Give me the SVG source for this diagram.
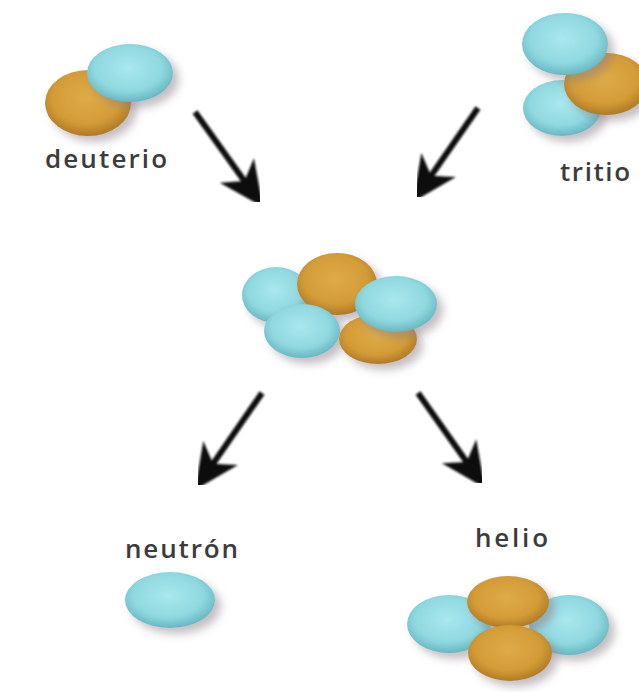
<svg xmlns="http://www.w3.org/2000/svg" width="639" height="692" viewBox="0 0 639 692">
  <defs>
    <radialGradient id="gCyan" cx="48%" cy="42%" r="60%">
      <stop offset="0" stop-color="#a9e8ee"/>
      <stop offset="0.65" stop-color="#90d8e0"/>
      <stop offset="1" stop-color="#62b4bf"/>
    </radialGradient>
    <radialGradient id="gOrange" cx="48%" cy="42%" r="60%">
      <stop offset="0" stop-color="#deab48"/>
      <stop offset="0.65" stop-color="#d49c37"/>
      <stop offset="1" stop-color="#ab7722"/>
    </radialGradient>
    <filter id="shade" x="-30%" y="-30%" width="170%" height="170%">
      <feGaussianBlur in="SourceAlpha" stdDeviation="4"/>
      <feOffset dx="6" dy="6" result="b"/>
      <feFlood flood-color="#8c7f88" flood-opacity="0.5"/>
      <feComposite in2="b" operator="in"/>
      <feMerge>
        <feMergeNode/>
        <feMergeNode in="SourceGraphic"/>
      </feMerge>
    </filter>
    <filter id="soft" x="-20%" y="-20%" width="140%" height="140%">
      <feGaussianBlur stdDeviation="0.8"/>
    </filter>
    <marker id="dart" markerUnits="userSpaceOnUse" markerWidth="60" markerHeight="50" viewBox="-25 -25 55 50" refX="0" refY="0" orient="auto">
      <path d="M25,0 L-20,-21 L-7,0 L-20,21 Z" fill="#111"/>
    </marker>
  </defs>
  <style>
    .c { fill: url(#gCyan); filter: url(#shade); }
    .o { fill: url(#gOrange); filter: url(#shade); }
    .lbl { font-family: "Open Sans", "Liberation Sans", sans-serif; font-size: 26px; font-weight: 600; fill: #3c3c3c; }
    .arr { stroke: #111; stroke-width: 6; fill: none; marker-end: url(#dart); filter: url(#soft); }
  </style>

  <rect width="639" height="692" fill="#ffffff"/>

  <!-- deuterium: one proton, one neutron -->
  <g id="deuterio">
    <ellipse class="o" cx="88" cy="103" rx="43" ry="33"/>
    <ellipse class="c" cx="130" cy="73" rx="43" ry="29"/>
    <text class="lbl" x="45" y="168" textLength="122" lengthAdjust="spacing">deuterio</text>
  </g>

  <!-- tritium: one proton, two neutrons -->
  <g id="tritio">
    <ellipse class="c" cx="562" cy="108" rx="39" ry="28"/>
    <ellipse class="o" cx="606" cy="84" rx="42" ry="31"/>
    <ellipse class="c" cx="565" cy="44" rx="43" ry="31"/>
    <text class="lbl" x="560" y="181" textLength="70" lengthAdjust="spacing">tritio</text>
  </g>

  <!-- fused intermediate nucleus -->
  <g id="fusion">
    <ellipse class="c" cx="276" cy="295" rx="34" ry="28"/>
    <ellipse class="o" cx="337" cy="284" rx="40" ry="31"/>
    <ellipse class="c" cx="302" cy="331" rx="38" ry="27"/>
    <ellipse class="o" cx="378" cy="339" rx="39" ry="25"/>
    <ellipse class="c" cx="396" cy="304" rx="41" ry="28"/>
  </g>

  <!-- free neutron -->
  <g id="neutron">
    <text class="lbl" x="125" y="558" textLength="113" lengthAdjust="spacing">neutrón</text>
    <ellipse class="c" cx="170" cy="600" rx="45" ry="28"/>
  </g>

  <!-- helium nucleus -->
  <g id="helio">
    <text class="lbl" x="475" y="547" textLength="73" lengthAdjust="spacing">helio</text>
    <ellipse class="c" cx="449" cy="624" rx="42" ry="29"/>
    <ellipse class="c" cx="569" cy="625" rx="40" ry="30"/>
    <ellipse class="o" cx="508" cy="602" rx="41" ry="26"/>
    <ellipse class="o" cx="510" cy="653" rx="42" ry="28"/>
  </g>

  <!-- reaction arrows -->
  <g id="connectors">
    <line class="arr" x1="195" y1="112" x2="248.5" y2="186.7"/>
    <line class="arr" x1="478" y1="108" x2="427.2" y2="181.4"/>
    <line class="arr" x1="262" y1="393" x2="209.2" y2="469.4"/>
    <line class="arr" x1="418" y1="393" x2="470.6" y2="467.6"/>
  </g>
</svg>
